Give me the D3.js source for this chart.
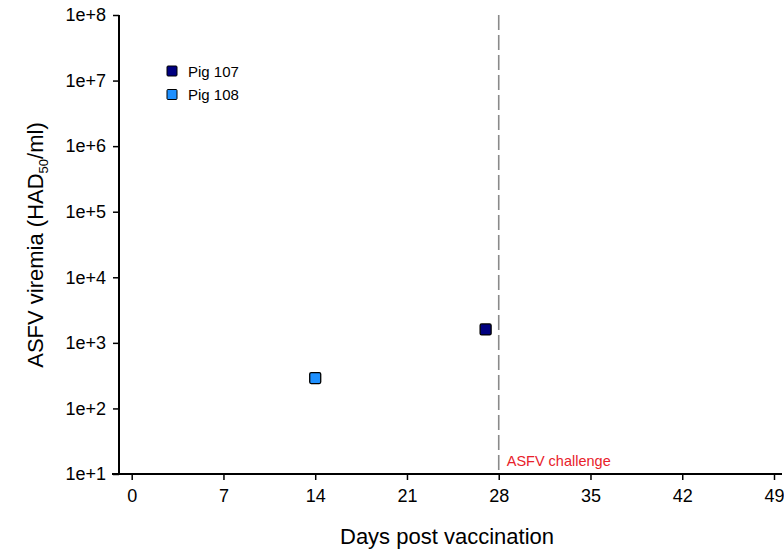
<!DOCTYPE html>
<html>
<head>
<meta charset="utf-8">
<script src="https://cdn.jsdelivr.net/npm/d3@7"></script>
<style>
  html, body { margin: 0; padding: 0; background: #fff; }
  svg { display: block; font-family: "Liberation Sans", Arial, sans-serif; }
</style>
</head>
<body>
<svg id="chart" width="784" height="550"></svg>
<script>
// Viremia per pig (day post vaccination, HAD50/ml)
const pigNames = ["Pig 107", "Pig 108"];
const pigColors = ["#000080", "#1E90FF"];
const pigDays = [27, 14];
const pigTiters = [1600, 290];

const xTickValues = [0, 7, 14, 21, 28, 35, 42, 49];
const yTickValues = [1e1, 1e2, 1e3, 1e4, 1e5, 1e6, 1e7, 1e8];
const challengeDay = 28;

const svg = d3.select("#chart");

const x = d3.scaleLinear().domain([0, 49]).range([131.7, 774]);
const y = d3.scaleLog().domain([1e1, 1e8]).range([474, 15]);

const axisColor = "#000";
const fontFam = "Liberation Sans, Arial, sans-serif";

// Y axis
const yAxis = d3.axisLeft(y)
  .tickValues(yTickValues)
  .tickSize(6)
  .tickPadding(7)
  .tickFormat(d => "1e+" + Math.round(Math.log10(d)));
const gy = svg.append("g").attr("transform", "translate(119,0)").call(yAxis);
gy.select(".domain").attr("stroke", axisColor).attr("stroke-width", 2)
  .attr("d", "M0," + y(1e8) + "V" + (y(1e1) + 1));
gy.selectAll(".tick line").attr("stroke", axisColor).attr("stroke-width", 1.5);
gy.selectAll(".tick text").attr("font-size", 18).attr("fill", "#000")
  .attr("font-family", fontFam);

// X axis
const xAxis = d3.axisBottom(x)
  .tickValues(xTickValues)
  .tickSize(6)
  .tickPadding(9)
  .tickFormat(d3.format("d"));
const gx = svg.append("g").attr("transform", "translate(0,474)").call(xAxis);
gx.select(".domain").attr("stroke", axisColor).attr("stroke-width", 2)
  .attr("d", "M112,0H782");
gx.selectAll(".tick line").attr("stroke", axisColor).attr("stroke-width", 1.5);
gx.selectAll(".tick text").attr("font-size", 18).attr("fill", "#000")
  .attr("font-family", fontFam);

// Challenge marker
svg.append("line")
  .attr("x1", x(challengeDay)).attr("x2", x(challengeDay))
  .attr("y1", y(1e8)).attr("y2", y(1e1))
  .attr("stroke", "#8a8a8a").attr("stroke-width", 1.6)
  .attr("stroke-dasharray", "15,5");
svg.append("text")
  .attr("x", x(challengeDay) + 8).attr("y", y(1e1) - 8)
  .attr("fill", "#e8212a").attr("font-size", 14.5)
  .text("ASFV challenge");

// Data points
const size = 11;
svg.append("g").selectAll("rect")
  .data(pigNames.map((n, i) => ({ name: n, day: pigDays[i], titer: pigTiters[i], color: pigColors[i] })))
  .join("rect")
  .attr("x", d => x(d.day) - size / 2)
  .attr("y", d => y(d.titer) - size / 2)
  .attr("width", size).attr("height", size)
  .attr("rx", 1.5)
  .attr("fill", d => d.color)
  .attr("stroke", "#000").attr("stroke-width", 1.3);

// Legend
const legend = svg.append("g").attr("transform", "translate(172,71)");
pigNames.forEach((n, i) => {
  const g = legend.append("g").attr("transform", "translate(0," + (i * 23.5) + ")");
  g.append("rect").attr("x", -5).attr("y", -5).attr("width", 10).attr("height", 10)
    .attr("rx", 1).attr("fill", pigColors[i]).attr("stroke", "#000").attr("stroke-width", 1);
  g.append("text").attr("x", 16).attr("y", 5.5).attr("font-size", 15).text(n);
});

// Axis titles
svg.append("text")
  .attr("x", 447).attr("y", 544)
  .attr("text-anchor", "middle").attr("font-size", 22)
  .text("Days post vaccination");

const yTitle = svg.append("text")
  .attr("transform", "translate(43,245) rotate(-90)")
  .attr("text-anchor", "middle").attr("font-size", 22);
yTitle.append("tspan").text("ASFV viremia (HAD");
yTitle.append("tspan").attr("font-size", 13).attr("dy", 5).text("50");
yTitle.append("tspan").attr("dy", -5).text("/ml)");
</script>
</body>
</html>
